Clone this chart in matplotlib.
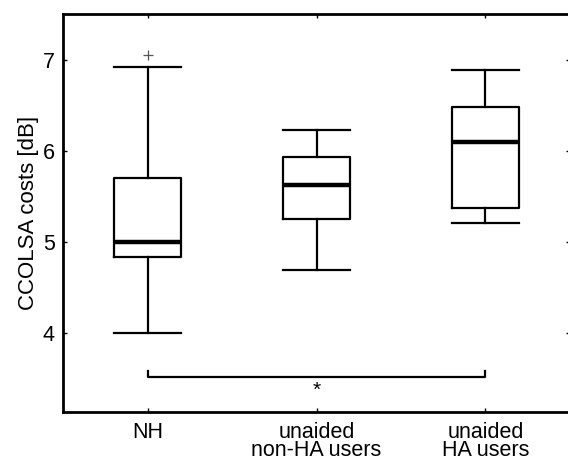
import matplotlib
matplotlib.use('Agg')
import matplotlib.pyplot as plt

plt.rcParams['font.family'] = ['Liberation Sans', 'DejaVu Sans']

# box statistics
groups = ['NH', 'unaided\nnon-HA users', 'unaided\nHA users']
medians = [5.00, 5.63, 6.10]
q1 = [4.84, 5.25, 5.375]
q3 = [5.70, 5.93, 6.48]
whis_lo = [4.00, 4.70, 5.21]
whis_hi = [6.92, 6.23, 6.89]
fliers = [[7.05], [], []]

# significance bracket
sig_pair = (1, 3)
sig_y = 3.52
sig_label = '*'

stats = []
for i in range(len(groups)):
    stats.append({'med': medians[i], 'q1': q1[i], 'q3': q3[i],
                  'whislo': whis_lo[i], 'whishi': whis_hi[i],
                  'fliers': fliers[i], 'label': groups[i]})

fig = plt.figure(figsize=(5.68, 4.61), dpi=100)
ax = fig.add_axes([0.111, 0.1063, 0.8925, 0.8633])

ax.bxp(stats, positions=[1, 2, 3], widths=0.4, capwidths=0.4,
       showfliers=True,
       boxprops=dict(color='black', linewidth=1.6),
       whiskerprops=dict(color='black', linewidth=1.6, linestyle='-'),
       capprops=dict(color='black', linewidth=1.6),
       medianprops=dict(color='black', linewidth=3.2),
       flierprops=dict(marker='+', markeredgecolor='#555555',
                       markersize=7, markeredgewidth=0.9))

x0, x1 = sig_pair
ax.plot([x0, x0, x1, x1], [sig_y + 0.07, sig_y, sig_y, sig_y + 0.07],
        color='black', linewidth=1.6)
ax.text((x0 + x1) / 2, sig_y - 0.04, sig_label, ha='center', va='top',
        fontsize=15)

ax.set_xlim(0.5, 3.5)
ax.set_ylim(3.14, 7.5)
ax.set_yticks([4, 5, 6, 7])
ax.set_xticks([1, 2, 3])
ax.set_xticklabels(groups, linespacing=0.8)
ax.set_ylabel('CCOLSA costs [dB]', fontsize=16, labelpad=3)
ax.tick_params(direction='in', length=3, width=1, top=True, right=True,
               labelsize=15.5)
ax.tick_params(axis='x', pad=7.5)
ax.tick_params(axis='y', pad=6)
for s in ax.spines.values():
    s.set_linewidth(2)

fig.savefig('out.png', dpi=100)
